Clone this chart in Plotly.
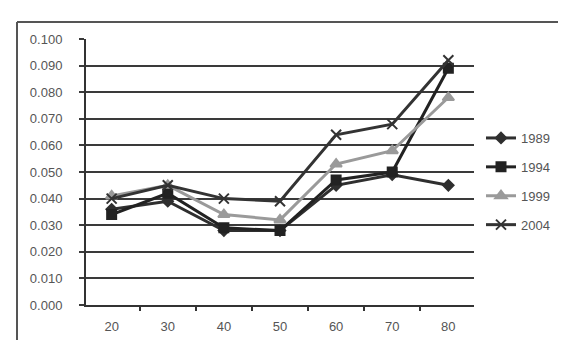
import plotly.graph_objects as go

ages = ["20", "30", "40", "50", "60", "70", "80"]
v1989 = [0.036, 0.039, 0.028, 0.028, 0.045, 0.049, 0.045]
v1994 = [0.034, 0.042, 0.029, 0.028, 0.047, 0.050, 0.089]
v1999 = [0.041, 0.045, 0.034, 0.032, 0.053, 0.058, 0.078]
v2004 = [0.040, 0.045, 0.040, 0.039, 0.064, 0.068, 0.092]
yticks = [0.0, 0.01, 0.02, 0.03, 0.04, 0.05, 0.06, 0.07, 0.08, 0.09, 0.10]

series = [
    ("1989", v1989, "#2f2f2f", "diamond", 8),
    ("1994", v1994, "#222222", "square", 9),
    ("1999", v1999, "#9a9a9a", "triangle-up", 10),
    ("2004", v2004, "#333333", "x-thin", 10),
]

fig = go.Figure()
for name, vals, col, sym, sz in series:
    fig.add_trace(go.Scatter(
        x=ages, y=vals, name=name, mode="lines+markers", legendgroup=name,
        line=dict(color=col, width=3),
        marker=dict(symbol=sym, size=sz, color=col, line=dict(color=col, width=2)),
    ))

L, R, T, B = 78, 466, 31, 297
W, H = 566, 340
fig.update_layout(
    width=W, height=H,
    margin=dict(l=L, r=W - R, t=T, b=H - B),
    paper_bgcolor="white", plot_bgcolor="white",
    font=dict(family="Liberation Sans, Arial", size=12, color="#555555"),
    showlegend=True,
    legend=dict(x=(473 - L) / (R - L), y=(297 - 115) / (B - T), xanchor="left", yanchor="top",
                bgcolor="rgba(0,0,0,0)", font=dict(size=13, color="#555555"),
                traceorder="grouped", tracegroupgap=9, itemwidth=30),
)
fig.update_xaxes(
    type="category", showgrid=False, showline=True, linecolor="#333333", linewidth=2,
    ticks="outside", tickson="boundaries", ticklen=4, tickcolor="#333333", tickwidth=2,
    tickfont=dict(size=13, color="#555555"), ticklabelstandoff=8,
)
fig.update_yaxes(
    range=[0, 0.1], tickvals=yticks, tickformat=".3f",
    showgrid=True, gridcolor="#3a3a3a", gridwidth=2,
    showline=True, linecolor="#333333", linewidth=2,
    ticks="outside", ticklen=5, tickcolor="#3a3a3a", tickwidth=2,
    tickfont=dict(size=13, color="#555555"), zeroline=False, ticklabelstandoff=14,
)
px = lambda p: (p - L) / (R - L)
py = lambda p: (B - p) / (B - T)
fig.add_shape(type="line", xref="paper", yref="paper", x0=px(9), x1=px(9), y0=py(14), y1=py(345),
              line=dict(color="#555555", width=2))
fig.add_shape(type="line", xref="paper", yref="paper", x0=px(9), x1=px(570), y0=py(14), y1=py(14),
              line=dict(color="#555555", width=2))
fig.write_html("out.html")
